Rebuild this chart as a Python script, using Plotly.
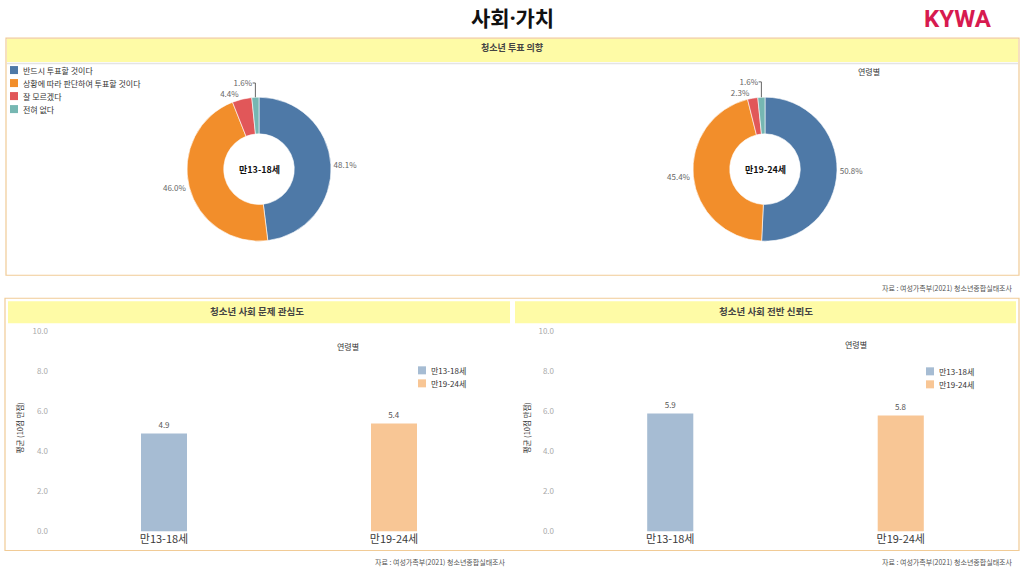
import plotly.graph_objects as go

# 데이터
vote_labels = ["반드시 투표할 것이다", "상황에 따라 판단하여 투표할 것이다", "잘 모르겠다", "전혀 없다"]
vote_13_18 = [48.1, 46.0, 4.4, 1.6]
vote_19_24 = [50.8, 45.4, 2.3, 1.6]
age_groups = ["만13-18세", "만19-24세"]
interest = [4.9, 5.4]   # 사회 문제 관심도
trust = [5.9, 5.8]      # 사회 전반 신뢰도
y_ticks = [0, 2, 4, 6, 8, 10]

pie_colors = ["#4e79a7", "#f28e2b", "#e15759", "#76b7b2"]
bar_colors = ["#a6bcd3", "#f8c695"]
FONT = "Noto Sans CJK KR"
W, H = 1024, 576


def px(x):
    return x / W


def py(y):
    # 화면에서 세로가 살짝 눌려 보여서 보정
    return 1 - ((y - 6) / 0.98) / H


fig = go.Figure()

# 도넛 차트 두 개
for vals, cx in [(vote_13_18, 259), (vote_19_24, 765)]:
    fig.add_trace(go.Pie(
        labels=vote_labels, values=vals, hole=0.49, sort=False,
        direction="clockwise", rotation=0,
        marker=dict(colors=pie_colors, line=dict(color="white", width=0.6)),
        texttemplate="%{value:.1f}%", textposition="outside",
        textfont=dict(size=8, color="#666"),
        domain=dict(x=[px(cx - 72), px(cx + 72)], y=[py(241), py(97)]),
        showlegend=False, hoverinfo="label+value",
    ))

# 막대 차트 두 개
for vals, xa, ya in [(interest, "x", "y"), (trust, "x2", "y2")]:
    for i, g in enumerate(age_groups):
        fig.add_trace(go.Bar(
            x=[g], y=[vals[i]], name=g, xaxis=xa, yaxis=ya, showlegend=False,
            marker=dict(color=bar_colors[i], line=dict(width=0)),
            width=0.2, text=[f"{vals[i]:.1f}"], textposition="outside",
            textfont=dict(size=8, color="#555"), cliponaxis=False,
        ))

axis_x = dict(showgrid=False, zeroline=False, showline=False, ticks="",
              tickfont=dict(size=11, color="#3a3a3a"), fixedrange=True)
axis_y = dict(range=[0, 10], tickvals=y_ticks, ticktext=[f"{v:.1f}" for v in y_ticks],
              showgrid=False, zeroline=False, showline=False, ticks="",
              tickfont=dict(size=8, color="#aaa"), domain=[py(531), py(331)])

fig.update_layout(
    width=W, height=H, margin=dict(l=0, r=0, t=0, b=0),
    paper_bgcolor="white", plot_bgcolor="white",
    font=dict(family=FONT, color="#333"),
    barmode="overlay",
    xaxis=dict(axis_x, domain=[px(49), px(509)]),
    xaxis2=dict(axis_x, domain=[px(555), px(1016)], anchor="y2"),
    yaxis=dict(axis_y, anchor="x"),
    yaxis2=dict(axis_y, anchor="x2"),
)

# 테두리와 노란 헤더
shapes = [
    dict(type="rect", x0=px(6), x1=px(1019), y0=py(275), y1=py(38),
         line=dict(color="#f1cb96", width=1.2)),
    dict(type="rect", x0=px(7), x1=px(1018), y0=py(62), y1=py(39),
         fillcolor="#fefba6", line=dict(width=0)),
    dict(type="line", x0=px(7), x1=px(1018), y0=py(63.5), y1=py(63.5),
         line=dict(color="#e4e4e4", width=1.5)),
    dict(type="rect", x0=px(5), x1=px(1019), y0=py(550), y1=py(298),
         line=dict(color="#f1cb96", width=1.2)),
    dict(type="rect", x0=px(8), x1=px(510), y0=py(323), y1=py(301),
         fillcolor="#fefba6", line=dict(width=0)),
    dict(type="rect", x0=px(515), x1=px(1016), y0=py(323), y1=py(301),
         fillcolor="#fefba6", line=dict(width=0)),
]


def note(text, x, y, size=8, color="#333", bold=False, xanchor="center", angle=0, family=FONT):
    fig.add_annotation(
        text=f"<b>{text}</b>" if bold else text, x=px(x), y=py(y),
        xref="paper", yref="paper", xanchor=xanchor, yanchor="middle",
        showarrow=False, textangle=angle,
        font=dict(size=size, color=color, family=family),
    )


# 범례 (작은 사각형 + 글자)
def legend(labels, colors, x, y, step=13):
    for i, (lab, col) in enumerate(zip(labels, colors)):
        yy = y + i * step
        shapes.append(dict(type="rect", x0=px(x), x1=px(x + 8), y0=py(yy + 4), y1=py(yy - 4),
                           fillcolor=col, line=dict(width=0)))
        note(lab, x + 11, yy, size=8, color="#333", xanchor="left")


legend(vote_labels, pie_colors, 10, 70)
legend(age_groups, bar_colors, 418, 370)
legend(age_groups, bar_colors, 926, 371)

for s in shapes:
    s.update(xref="paper", yref="paper", layer="below")
fig.update_layout(shapes=shapes)

source = "자료 : 여성가족부(2021) 청소년종합실태조사"

note("사회·가치", 512, 18, size=21, color="#111", bold=True, family="Noto Sans, " + FONT)
note("KYWA", 958, 19, size=24, color="#d71a4f", bold=True, family="Roboto")
note("청소년 투표 의향", 512, 47, size=9, color="#444", bold=True)
note("만13-18세", 259, 169, size=9, color="#111", bold=True)
note("만19-24세", 765, 169, size=9, color="#111", bold=True)
note("연령별", 869, 71, size=8)
note(source, 1015, 288, size=7, color="#555", xanchor="right")
note("청소년 사회 문제 관심도", 257, 311, size=9.5, color="#444", bold=True)
note("청소년 사회 전반 신뢰도", 766, 311, size=9.5, color="#444", bold=True)
note("연령별", 348, 346, size=8)
note("연령별", 856, 344, size=8)
note("평균 (10점 만점)", 19, 428, size=7.5, color="#333", angle=-90)
note("평균 (10점 만점)", 526, 428, size=7.5, color="#333", angle=-90)
note(source, 508, 561, size=7, color="#555", xanchor="right")
note(source, 1015, 561, size=7, color="#555", xanchor="right")

fig.write_html("out.html", config={"displayModeBar": False},
               post_script="document.body.style.margin='0';")
